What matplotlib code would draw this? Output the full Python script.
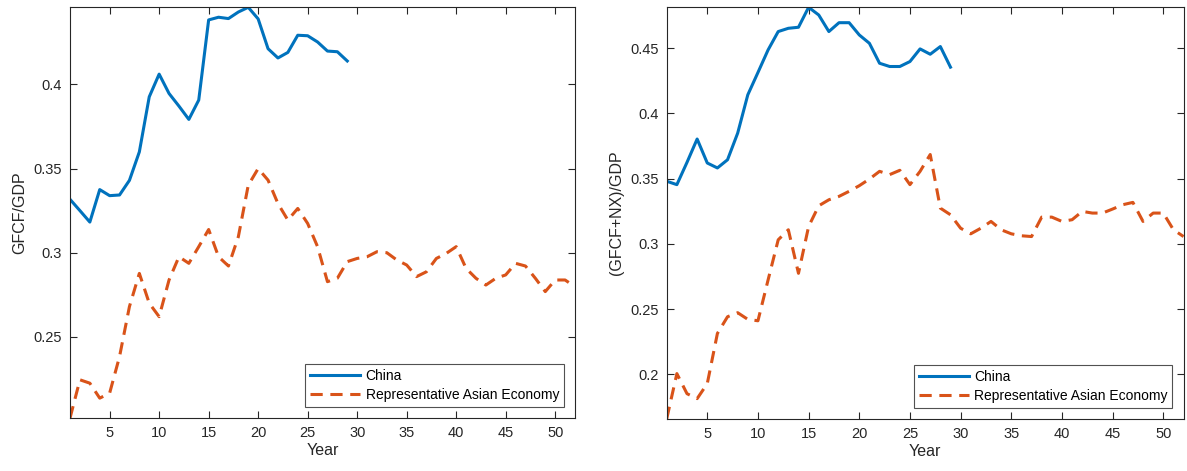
import matplotlib
matplotlib.use("Agg")
import matplotlib.pyplot as plt
import numpy as np

plt.rcParams['font.family'] = ['Liberation Sans', 'DejaVu Sans']

years_china = list(range(1, 30))
years_rep = list(range(1, 53))

china_gfcf = [0.3317, 0.3250, 0.3182, 0.3375, 0.3339, 0.3343, 0.3430, 0.3599, 0.3926, 0.4061,
              0.3946, 0.3871, 0.3792, 0.3907, 0.4383, 0.4399, 0.4391, 0.4430, 0.4458, 0.4389,
              0.4212, 0.4157, 0.4190, 0.4292, 0.4289, 0.4252, 0.4198, 0.4194, 0.4139]

rep_gfcf = [0.2018, 0.2245, 0.2225, 0.2136, 0.2166, 0.2383, 0.2680, 0.2877, 0.2700, 0.2620,
            0.2838, 0.2976, 0.2937, 0.3036, 0.3138, 0.2976, 0.2921, 0.3095, 0.3401, 0.3500,
            0.3431, 0.3292, 0.3194, 0.3263, 0.3174, 0.3036, 0.2828, 0.2848, 0.2947, 0.2966,
            0.2976, 0.3006, 0.3000, 0.2957, 0.2927, 0.2858, 0.2887, 0.2966, 0.2996, 0.3036,
            0.2907, 0.2848, 0.2808, 0.2848, 0.2868, 0.2937, 0.2921, 0.2848, 0.2769, 0.2838,
            0.2838, 0.2798]

china_gfcfnx = [0.3480, 0.3454, 0.3625, 0.3804, 0.3620, 0.3582, 0.3645, 0.3849, 0.4143, 0.4314,
                0.4487, 0.4628, 0.4653, 0.4661, 0.4814, 0.4755, 0.4628, 0.4696, 0.4696, 0.4602,
                0.4538, 0.4385, 0.4360, 0.4360, 0.4398, 0.4495, 0.4454, 0.4513, 0.4355]

rep_gfcfnx = [0.1659, 0.2005, 0.1851, 0.1813, 0.1928, 0.2313, 0.2441, 0.2472, 0.2421, 0.2410,
              0.2723, 0.3031, 0.3108, 0.2774, 0.3133, 0.3292, 0.3338, 0.3364, 0.3403, 0.3446,
              0.3497, 0.3556, 0.3531, 0.3564, 0.3454, 0.3556, 0.3685, 0.3274, 0.3223, 0.3120,
              0.3077, 0.3120, 0.3172, 0.3108, 0.3077, 0.3062, 0.3056, 0.3205, 0.3205, 0.3172,
              0.3185, 0.3249, 0.3236, 0.3236, 0.3267, 0.3300, 0.3318, 0.3172, 0.3236, 0.3236,
              0.3108, 0.3056]

xticks = [5, 10, 15, 20, 25, 30, 35, 40, 45, 50]
yticks_left = [0.25, 0.3, 0.35, 0.4]
yticks_right = [0.2, 0.25, 0.3, 0.35, 0.4, 0.45]
labels = ["China", "Representative Asian Economy"]

c_blue = '#0072BD'
c_orange = '#D95319'

fig = plt.figure(figsize=(11.87, 4.71), dpi=100)
ax1 = fig.add_axes([0.0590, 0.1125, 0.4254, 0.872])
ax2 = fig.add_axes([0.5617, 0.1110, 0.4354, 0.8735])

def style(ax, ylab, yt, ytl):
    ax.set_xlim(1, 52)
    ax.set_xticks(xticks)
    ax.set_yticks(yt)
    ax.set_yticklabels(ytl)
    ax.tick_params(direction='in', top=True, right=True, labelsize=10.5,
                   colors='#262626', length=5, width=0.8, pad=6)
    for s in ax.spines.values():
        s.set_color('#262626')
        s.set_linewidth(0.8)
    ax.set_xlabel('Year', fontsize=11.5, color='#262626', labelpad=2)
    ax.set_ylabel(ylab, fontsize=11.5, color='#262626', labelpad=4)
    leg = ax.legend(loc='lower right', fontsize=10, frameon=True, fancybox=False,
                    edgecolor='#262626', borderpad=0.35, handlelength=3.6,
                    handletextpad=0.4, labelspacing=0.35, borderaxespad=0.8)
    leg.get_frame().set_linewidth(0.8)

ax1.plot(years_china, china_gfcf, color=c_blue, lw=2.2, label=labels[0])
ax1.plot(years_rep, rep_gfcf, color=c_orange, lw=2.2, ls=(0, (4, 2.5)), label=labels[1])
ax1.set_ylim(min(rep_gfcf), max(china_gfcf))
style(ax1, 'GFCF/GDP', yticks_left, ['0.25', '0.3', '0.35', '0.4'])

ax2.plot(years_china, china_gfcfnx, color=c_blue, lw=2.2, label=labels[0])
ax2.plot(years_rep, rep_gfcfnx, color=c_orange, lw=2.2, ls=(0, (4, 2.5)), label=labels[1])
ax2.set_ylim(min(rep_gfcfnx), max(china_gfcfnx))
style(ax2, '(GFCF+NX)/GDP', yticks_right, ['0.2', '0.25', '0.3', '0.35', '0.4', '0.45'])

fig.savefig('out.png', dpi=100)
